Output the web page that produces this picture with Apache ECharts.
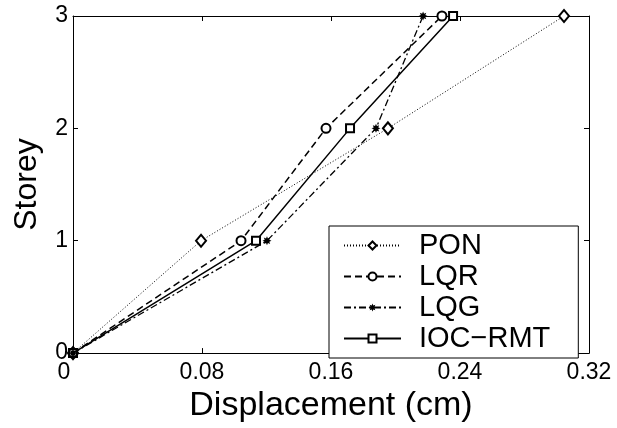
<!DOCTYPE html>
<html>
<head>
    <meta charset="UTF-8">
    <title>Storey displacement</title>
    <script src="https://cdn.jsdelivr.net/npm/echarts@6/dist/echarts.min.js"></script>
    <style>
        body { margin: 0; background: #fff; }
        #chart { width: 617px; height: 428px; }
    </style>
</head>
<body>
<div id="chart"></div>
<script type="text/javascript">
    // storey levels and peak displacement (cm) per controller
    var storeys = [0, 1, 2, 3];
    var pon = [0, 0.0794, 0.1953, 0.3045];
    var lqr = [0, 0.1042, 0.1569, 0.2288];
    var lqg = [0, 0.1203, 0.1879, 0.2171];
    var ioc = [0, 0.1135, 0.1718, 0.2357];
    var xTicks = [0, 0.08, 0.16, 0.24, 0.32];
    var yTicks = [0, 1, 2, 3];

    var font = "'Liberation Sans', Arial, Helvetica, sans-serif";
    var star = 'path://M10 0L12.1 4.92L17.07 2.93L15.08 7.9L20 10L15.08 12.1L17.07 17.07L12.1 15.08L10 20L7.9 15.08L2.93 17.07L4.92 12.1L0 10L4.92 7.9L2.93 2.93L7.9 4.92Z';

    function pairs(xs){
        var out = [];
        for(var i = 0; i < xs.length; i++){
            out.push([xs[i], storeys[i]]);
        }
        return out;
    }

    var axisLine = { show: true, onZero: false, lineStyle: { color: '#000', width: 1 } };
    var tick = { show: true, inside: true, length: 5, lineStyle: { color: '#000', width: 1 } };

    var option = {
        animation: false,
        backgroundColor: '#fff',
        textStyle: { fontFamily: font },
        grid: { left: 73, top: 16, width: 516, height: 346, containLabel: false },
        legend: {
            orient: 'vertical',
            left: 329,
            top: 226,
            padding: [5, 28, 5, 14],
            itemGap: 2,
            itemWidth: 57,
            itemHeight: 10,
            backgroundColor: '#fff',
            borderColor: '#000',
            borderWidth: 1,
            borderRadius: 0,
            textStyle: { fontFamily: font, fontSize: 29, color: '#000', padding: [0, 0, 0, 13] },
            data: ['PON', 'LQR', 'LQG', 'IOC\u2212RMT']
        },
        xAxis: [{
            type: 'value',
            min: 0,
            max: 0.32,
            interval: 0.08,
            name: 'Displacement (cm)',
            nameLocation: 'middle',
            nameGap: 28,
            nameTextStyle: { fontFamily: font, fontSize: 34, color: '#000' },
            axisLine: axisLine,
            axisTick: tick,
            splitLine: { show: false },
            axisLabel: {
                fontFamily: font, fontSize: 23, color: '#000', margin: 8,
                formatter: function(v){
                    return v === 0 ? '{z|0}' : String(Math.round(v * 100) / 100);
                },
                rich: { z: { fontFamily: font, fontSize: 23, color: '#000', padding: [0, 18, 0, 0] } }
            }
        }, {
            type: 'value',
            position: 'top',
            min: 0,
            max: 0.32,
            interval: 0.08,
            axisLine: axisLine,
            axisTick: tick,
            axisLabel: { show: false },
            splitLine: { show: false }
        }],
        yAxis: [{
            type: 'value',
            min: 0,
            max: 3,
            interval: 1,
            name: 'Storey',
            nameLocation: 'middle',
            nameGap: 30,
            nameTextStyle: { fontFamily: font, fontSize: 32, color: '#000' },
            axisLine: axisLine,
            axisTick: tick,
            splitLine: { show: false },
            axisLabel: { fontFamily: font, fontSize: 23, color: '#000', margin: 5 }
        }, {
            type: 'value',
            position: 'right',
            min: 0,
            max: 3,
            interval: 1,
            axisLine: axisLine,
            axisTick: tick,
            axisLabel: { show: false },
            splitLine: { show: false }
        }],
        series: [
            {
                name: 'PON',
                type: 'line',
                data: pairs(pon),
                clip: false,
                z: 2,
                symbol: 'emptyDiamond',
                symbolSize: [10, 12],
                lineStyle: { color: '#000', width: 1, type: [1, 2] },
                itemStyle: { color: '#000', borderWidth: 1.5 }
            },
            {
                name: 'LQR',
                type: 'line',
                data: pairs(lqr),
                clip: false,
                z: 2,
                symbol: 'emptyCircle',
                symbolSize: 9,
                lineStyle: { color: '#000', width: 1.5, type: [7, 4] },
                itemStyle: { color: '#000', borderWidth: 1.5 }
            },
            {
                name: 'LQG',
                type: 'line',
                data: pairs(lqg),
                clip: false,
                z: 4,
                symbol: star,
                symbolSize: 9,
                lineStyle: { color: '#000', width: 1.3, type: [7, 3, 2, 3] },
                itemStyle: { color: '#000' }
            },
            {
                name: 'IOC\u2212RMT',
                type: 'line',
                data: pairs(ioc),
                clip: false,
                z: 3,
                symbol: 'emptyRect',
                symbolSize: 8,
                lineStyle: { color: '#000', width: 1.5, type: 'solid' },
                itemStyle: { color: '#000', borderWidth: 1.5 }
            }
        ]
    };

    echarts.init(document.getElementById('chart')).setOption(option);
</script>
</body>
</html>
